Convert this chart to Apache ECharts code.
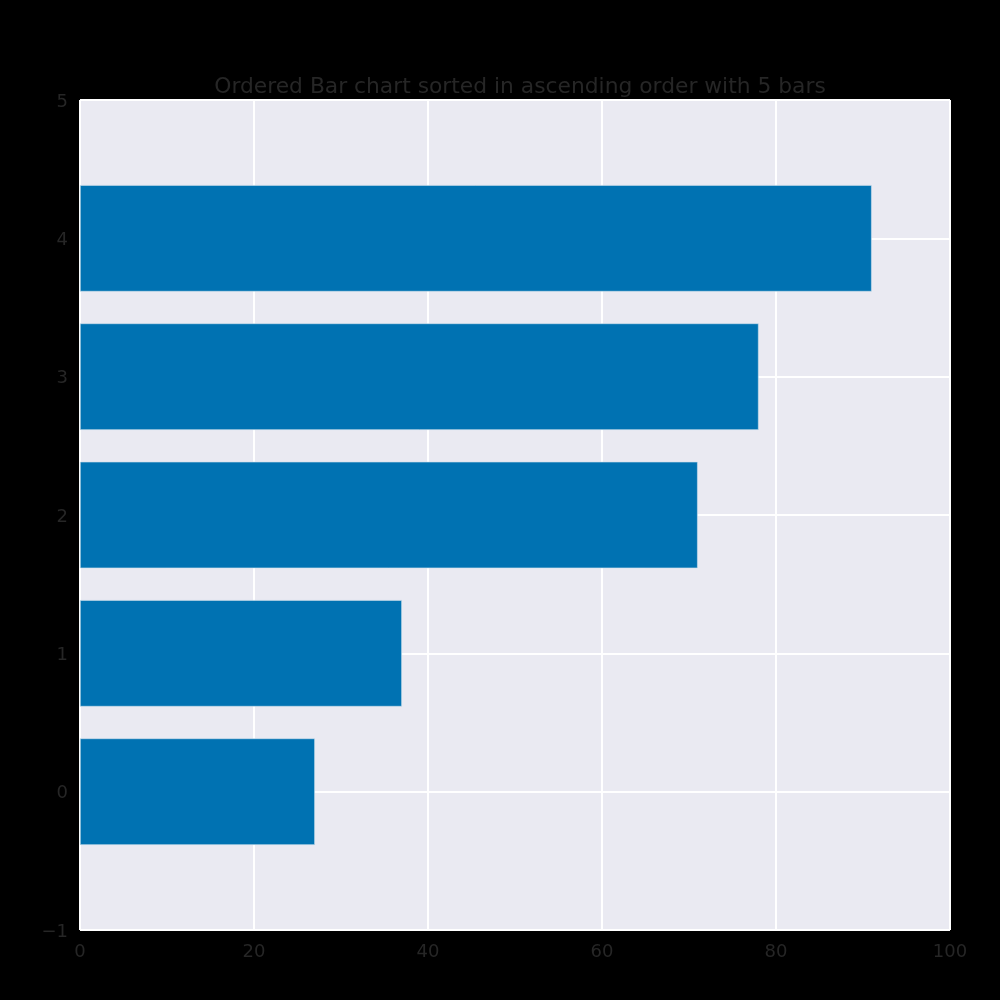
<!DOCTYPE html>
<html><head><meta charset="utf-8">
<script src="https://cdn.jsdelivr.net/npm/echarts@6/dist/echarts.min.js"></script>
<style>html,body{margin:0;padding:0;background:#000;}#c{width:1000px;height:1000px;}</style>
</head><body><div id="c"></div>
<script>
const title = 'Ordered Bar chart sorted in ascending order with 5 bars';
const yTicks = ['\u22121', '0', '1', '2', '3', '4', '5'];
const values = [null, 27, 37, 71, 78, 91, null];
const xTicks = [0, 20, 40, 60, 80, 100];

const chart = echarts.init(document.getElementById('c'));
const textColor = '#262626';
const font = 'DejaVu Sans';
chart.setOption({
  backgroundColor: '#000000',
  animation: false,
  title: {
    text: title, left: 515, top: 71, textAlign: 'center',
    textStyle: { color: textColor, fontFamily: font, fontSize: 21.8, fontWeight: 'normal' }
  },
  grid: { left: 80, right: 50, top: 100, bottom: 70, show: true, backgroundColor: '#EAEAF2', borderWidth: 0 },
  xAxis: {
    type: 'value', min: xTicks[0], max: xTicks[xTicks.length - 1], interval: 20,
    axisLine: { show: false }, axisTick: { show: false },
    splitLine: { show: true, lineStyle: { color: '#ffffff', width: 2 } },
    axisLabel: { color: textColor, fontFamily: font, fontSize: 18, margin: 13 }
  },
  yAxis: {
    type: 'category', data: yTicks, boundaryGap: false,
    axisLine: { show: false }, axisTick: { show: false },
    splitLine: { show: true, lineStyle: { color: '#ffffff', width: 2 } },
    axisLabel: {
      color: textColor, fontFamily: font, fontSize: 18, margin: 12,
      formatter: function (v) { return '{a|' + v + '}'; },
      rich: { a: { color: textColor, fontFamily: font, fontSize: 18, padding: [4, 0, 0, 0] } }
    }
  },
  series: [{
    type: 'bar', data: values, barWidth: '77%',
    itemStyle: { color: '#0072B2', borderColor: '#cfe0ec', borderWidth: 0.6 }
  }]
});
</script></body></html>
